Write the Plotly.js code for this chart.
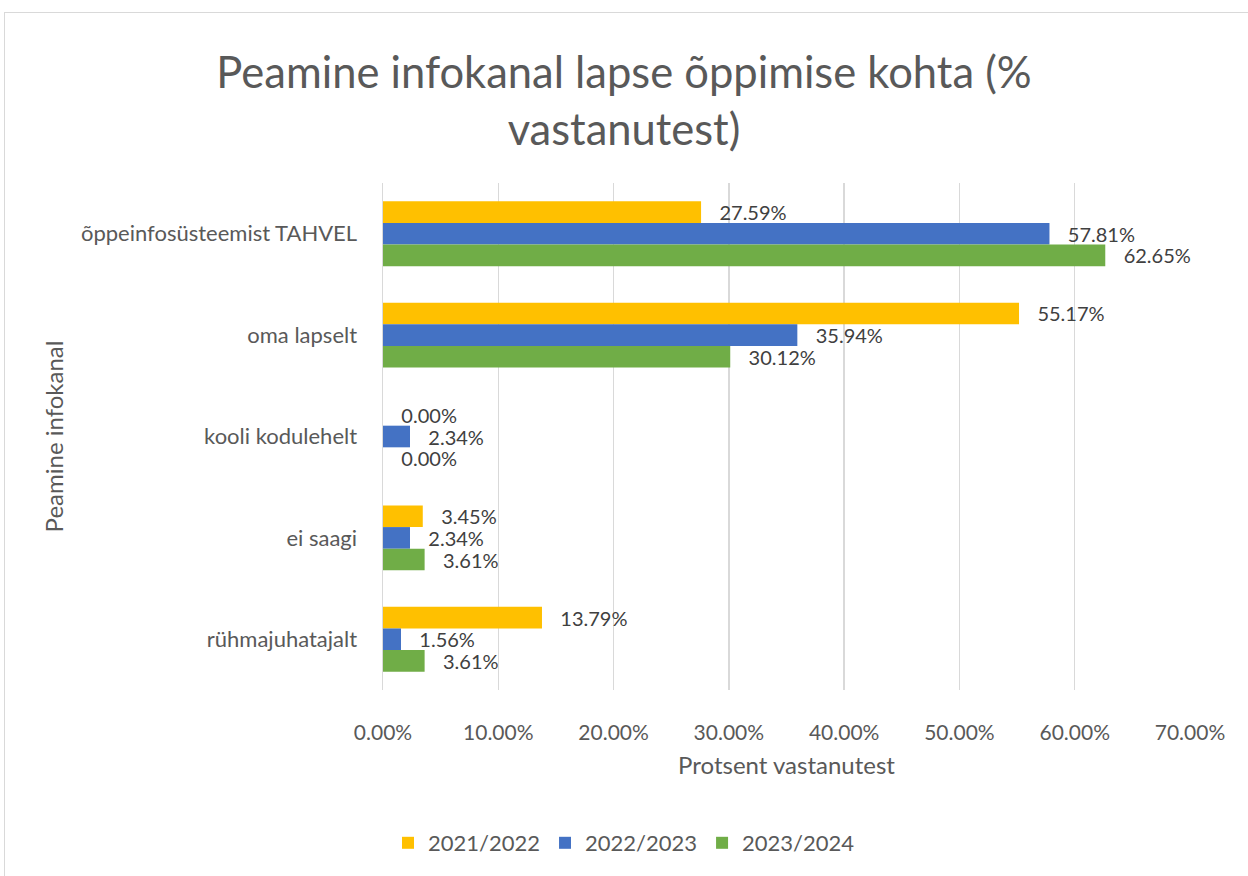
<!DOCTYPE html>
<html><head><meta charset="utf-8">
<script src="https://cdn.plot.ly/plotly-3.0.1.min.js"></script>
<style>
body{margin:0;padding:0;background:#fff;}
#frame{position:absolute;left:4px;top:12px;width:1260px;height:880px;border:1px solid #d9d9d9;box-sizing:border-box;}
#chart{position:absolute;left:0;top:0;width:1248px;height:876px;}
</style>
</head><body>
<div id="frame"></div>
<div id="chart"></div>
<script>
const categories = ["õppeinfosüsteemist TAHVEL", "oma lapselt", "kooli kodulehelt", "ei saagi", "rühmajuhatajalt"];
const seriesNames = ["2021/2022", "2022/2023", "2023/2024"];
const s2021 = [27.59, 55.17, 0.00, 3.45, 13.79];
const s2022 = [57.81, 35.94, 2.34, 2.34, 1.56];
const s2023 = [62.65, 30.12, 0.00, 3.61, 3.61];
const colors = ["#FFC000", "#4472C4", "#70AD47"];
const xTicks = [0, 10, 20, 30, 40, 50, 60, 70];

const font = "Lato, 'Open Sans', sans-serif";
const traces = [s2021, s2022, s2023].map((vals, i) => ({
  type: "bar", orientation: "h",
  name: seriesNames[i], x: vals, y: categories,
  marker: {color: colors[i]},
  text: vals.map(v => v.toFixed(2) + "%"),
  texttemplate: "\u00a0\u00a0\u00a0%{text}",
  textposition: "outside",
  constraintext: "none",
  textfont: {family: font, size: 20, color: "#404040"},
  cliponaxis: false,
  hoverinfo: "none"
}));

const layout = {
  width: 1248, height: 876,
  margin: {l: 383, r: 58, t: 183, b: 186},
  paper_bgcolor: "rgba(0,0,0,0)", plot_bgcolor: "rgba(0,0,0,0)",
  font: {family: font, color: "#595959"},
  title: {text: "Peamine infokanal lapse õppimise kohta (%<br>vastanutest)",
    font: {family: font, size: 43.5, color: "#595959"},
    x: 0.5, xanchor: "center", yref: "container", y: 1 - 88/876, yanchor: "middle"},
  barmode: "group", bargap: 0.36, bargroupgap: 0,
  xaxis: {range: [0, 70], tickvals: xTicks, ticktext: xTicks.map(v => v.toFixed(2) + "%"),
    showgrid: true, gridcolor: "#d9d9d9", gridwidth: 1.5, zeroline: false,
    showline: false, ticks: "", ticklabelstandoff: 28,
    tickfont: {family: font, size: 21, color: "#595959"},
    title: {text: "Protsent vastanutest", font: {family: font, size: 24, color: "#595959"}, standoff: 14}},
  yaxis: {autorange: "reversed", showgrid: false, zeroline: false, showline: true, linecolor: "#d9d9d9", linewidth: 1.5,
    ticks: "", ticklabelstandoff: 20,
    tickfont: {family: font, size: 22, color: "#595959"},
    title: {text: "Peamine infokanal", font: {family: font, size: 24, color: "#595959"}, standoff: 10}},
  showlegend: true,
  legend: {orientation: "h", x: 0.5, xanchor: "center", xref: "container", y: 1 - 843/876, yref: "container", yanchor: "middle",
    font: {family: font, size: 22, color: "#595959"}, traceorder: "normal", itemwidth: 30}
};
Plotly.newPlot("chart", traces, layout, {displayModeBar: false, staticPlot: true});
</script>
</body></html>
